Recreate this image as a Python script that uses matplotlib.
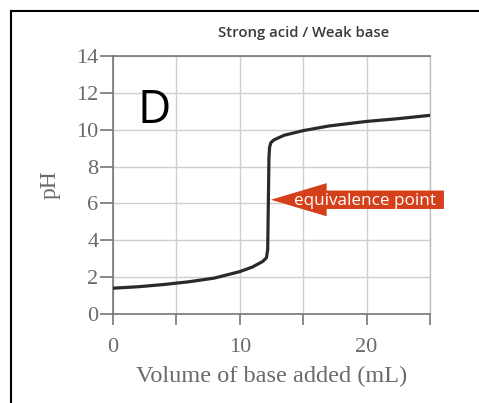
import matplotlib
matplotlib.use("Agg")
import matplotlib.pyplot as plt
from matplotlib.patches import FancyArrow
from matplotlib.lines import Line2D

# Data
volume_ml = [0, 2, 4, 6, 8, 10, 11, 11.8, 12.1, 12.2, 12.25, 12.3, 12.35, 12.45, 12.7, 13.5, 15, 17, 20, 22.5, 25]
ph_values = [1.40, 1.48, 1.60, 1.75, 1.95, 2.30, 2.55, 2.85, 3.05, 3.5, 6.0, 8.5, 9.05, 9.3, 9.45, 9.7, 9.95, 10.2, 10.45, 10.6, 10.78]
x_ticks = [0, 5, 10, 15, 20, 25]
x_tick_labels = ["0", "", "10", "", "20", ""]
y_ticks = [0, 2, 4, 6, 8, 10, 12, 14]
title = "Strong acid / Weak base"
panel_label = "D"
arrow_text = "equivalence point"
eq_x, eq_ph = 12.45, 6.2

W, H = 479, 403
fig = plt.figure(figsize=(W / 100, H / 100), dpi=100)
ax = fig.add_axes([113 / W, 1 - 314 / H, (430 - 113) / W, (314 - 56) / H])

ax.plot(volume_ml, ph_values, color="#2a2a2a", lw=2.3, solid_capstyle="round", zorder=3)

ax.set_xlim(0, 25)
ax.set_ylim(0, 14)
ax.set_xticks(x_ticks)
ax.set_xticklabels(x_tick_labels)
ax.set_yticks(y_ticks)
ax.grid(True, color="#cfcfcf", lw=1.0)
gray = "#777777"
for side in ["left", "top", "bottom"]:
    ax.spines[side].set_color(gray)
    ax.spines[side].set_linewidth(1.2)
ax.spines["right"].set_color("#bdbdbd")
ax.spines["right"].set_linewidth(1.0)
ax.tick_params(axis="y", direction="out", length=9.5, width=1.2, color=gray,
               labelsize=16, labelcolor="#6a6a6a", pad=1)
ax.tick_params(axis="x", direction="out", length=8, width=1.2, color=gray,
               labelsize=16, labelcolor="#6a6a6a", pad=9)
for lab in ax.get_xticklabels() + ax.get_yticklabels():
    lab.set_family("Liberation Serif")

ax.set_xlabel("Volume of base added (mL)", family="Liberation Serif", fontsize=17.5,
              color="#6a6a6a", labelpad=7)
ax.set_ylabel("pH", family="Liberation Serif", fontsize=17, color="#6a6a6a", labelpad=11)

fig.text(304 / W, 1 - 33 / H, title, ha="center", va="center", fontsize=10.7,
         family="Open Sans", weight="semibold", color="#3a3a3a")

ax.text(1.95, 11.0, panel_label, fontsize=33, family="Open Sans", color="black",
        ha="left", va="center")

# Arrow annotation
tail_x = 26.1
arr = FancyArrow(tail_x, eq_ph, eq_x - tail_x, 0, width=1.0, head_width=1.8,
                 head_length=4.4, length_includes_head=True, color="#d4401a",
                 lw=0, clip_on=False, zorder=4)
ax.add_patch(arr)
ax.text(19.9, eq_ph - 0.05, arrow_text, color="white", fontsize=12.3, family="Open Sans",
        ha="center", va="center", zorder=5, clip_on=False)

# Outer frame (top and left)
fig.add_artist(Line2D([11 / W, 1.0], [1 - 11 / H, 1 - 11 / H], color="black", lw=1.5))
fig.add_artist(Line2D([11 / W, 11 / W], [0, 1 - 11 / H], color="black", lw=1.5))

fig.savefig("out.png", dpi=100)
